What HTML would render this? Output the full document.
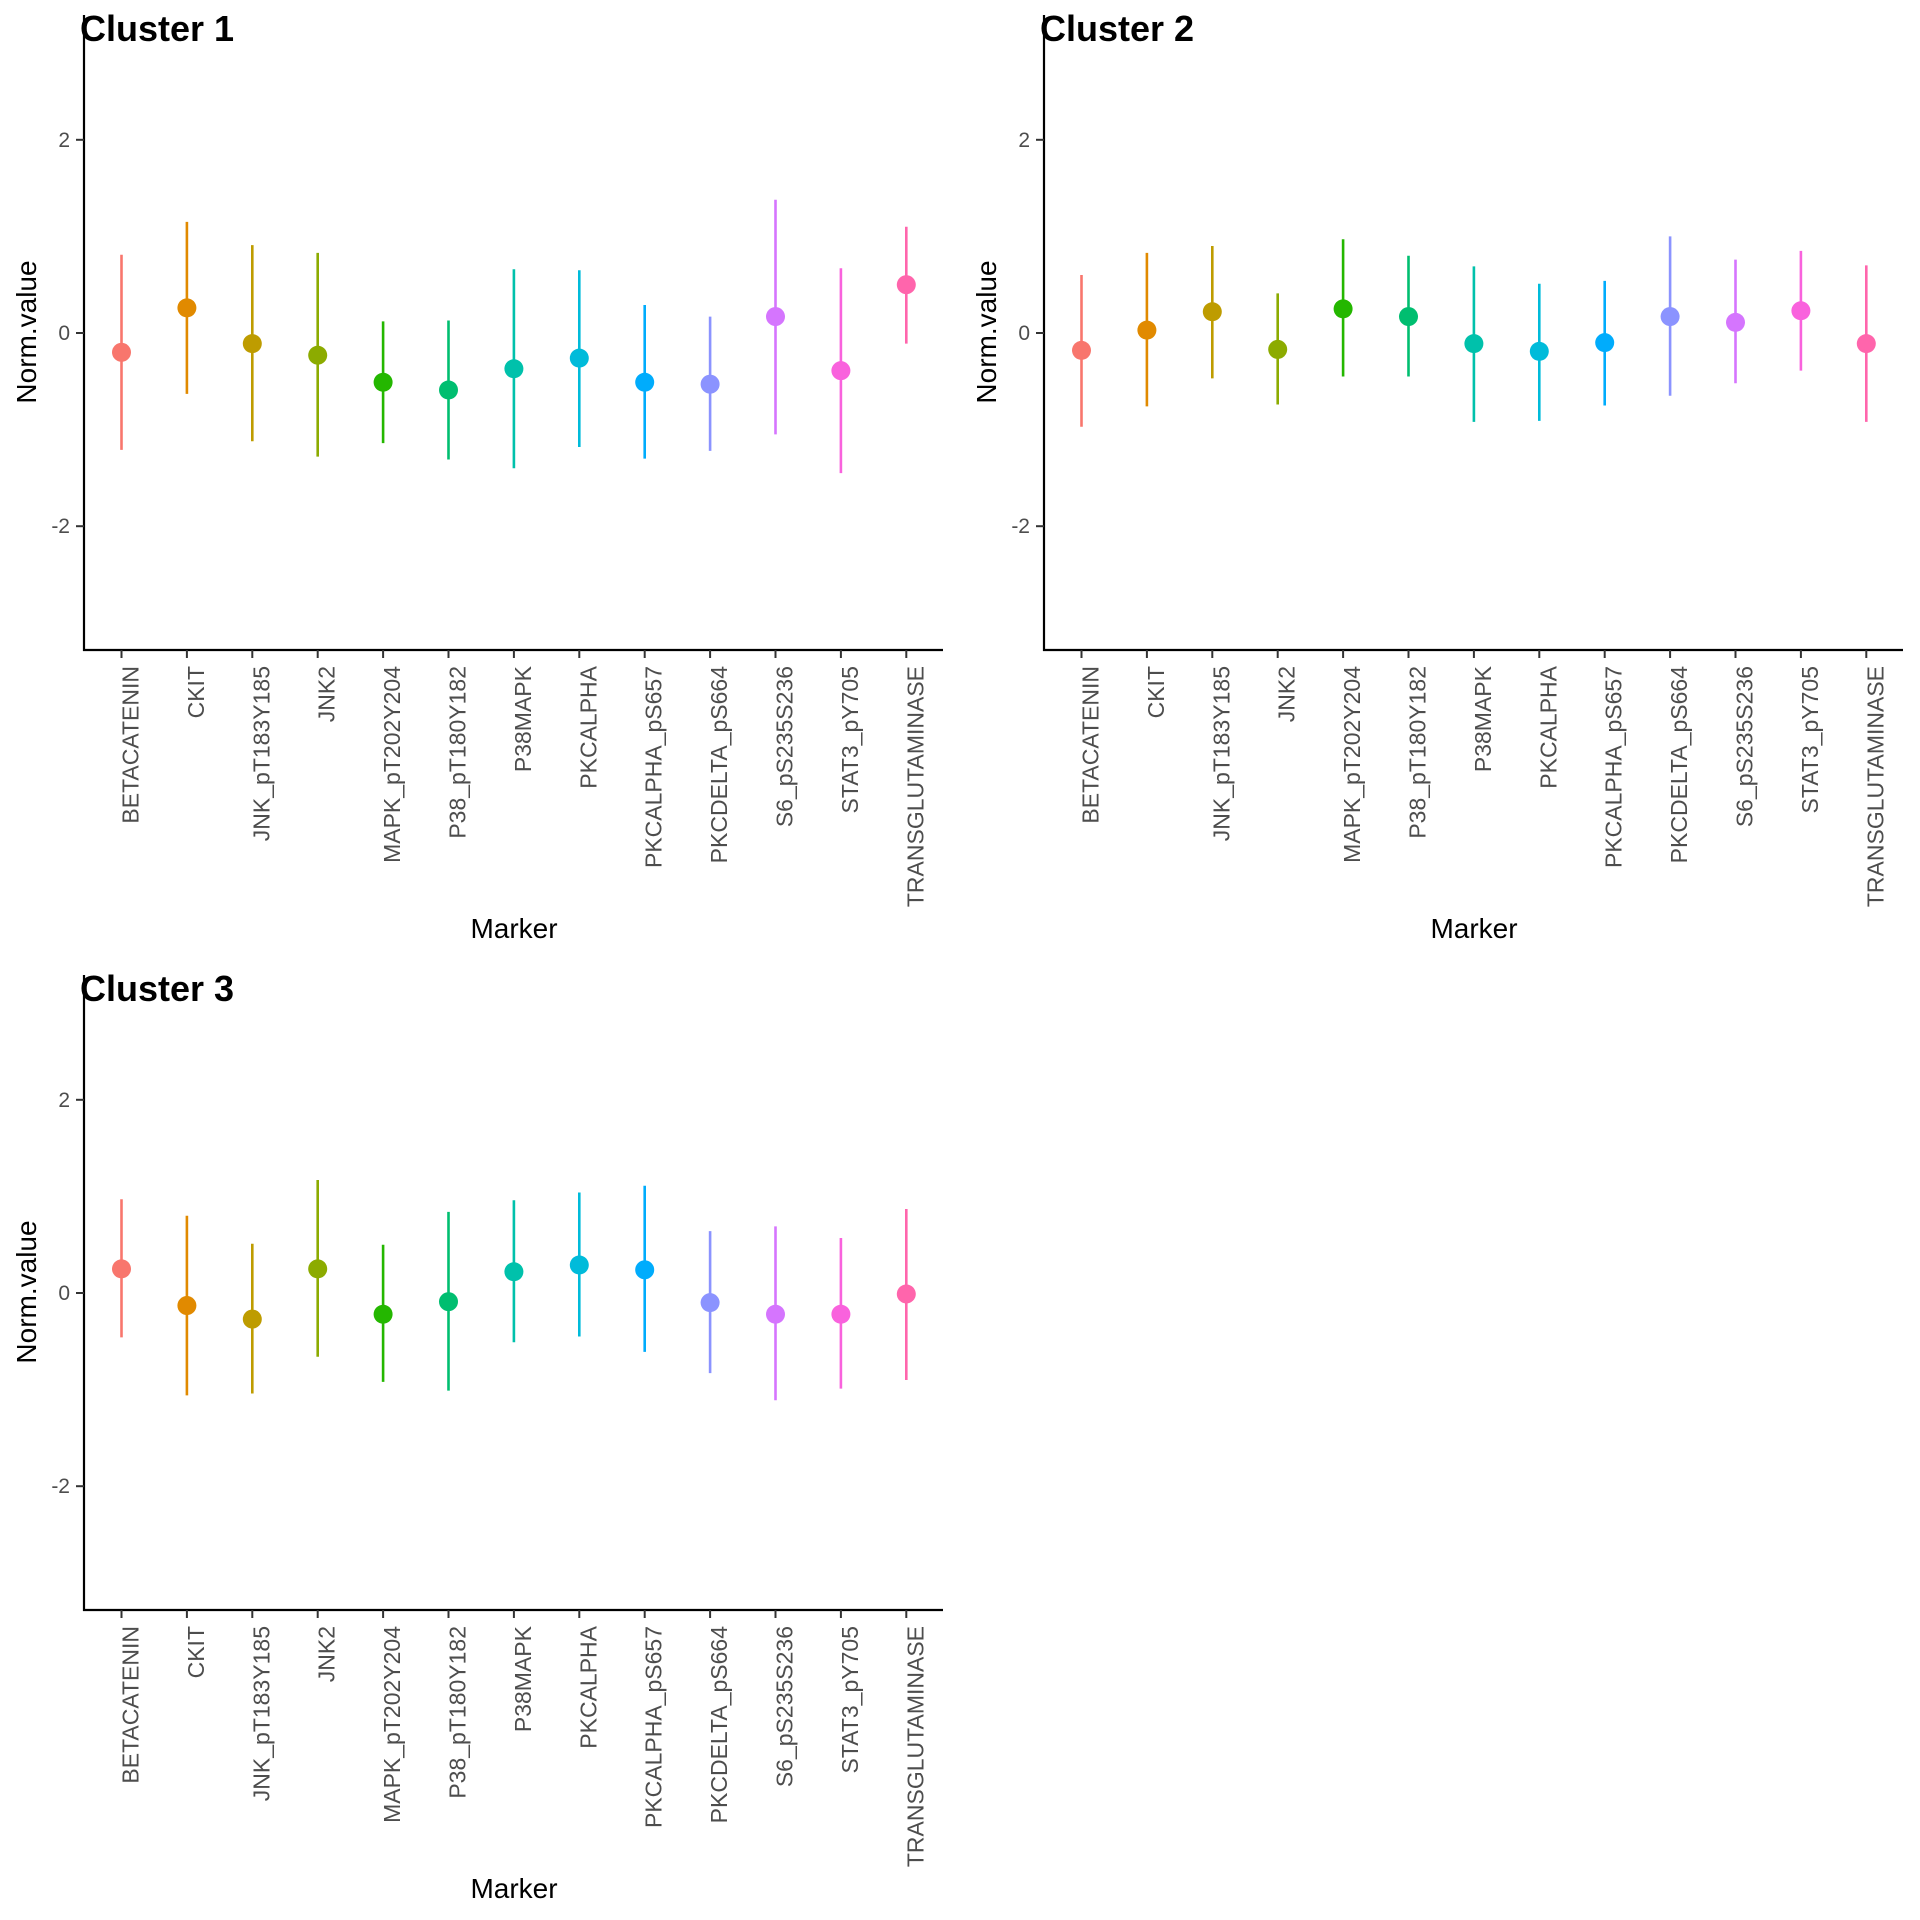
<!DOCTYPE html>
<html><head><meta charset="utf-8"><style>
html,body{margin:0;padding:0;background:#fff;}
svg{display:block;font-family:"Liberation Sans",Arial,sans-serif;}
</style></head><body>
<svg id="chart" width="1920" height="1920" viewBox="0 0 1920 1920" xmlns="http://www.w3.org/2000/svg"></svg>
<script>
const markers = ["BETACATENIN","CKIT","JNK_pT183Y185","JNK2","MAPK_pT202Y204","P38_pT180Y182","P38MAPK","PKCALPHA","PKCALPHA_pS657","PKCDELTA_pS664","S6_pS235S236","STAT3_pY705","TRANSGLUTAMINASE"];
const colors = ["#F8766D","#E18A00","#BE9C00","#8CAB00","#24B700","#00BE70","#00C1AB","#00BBDA","#00ACFC","#8B93FF","#D575FE","#F962DD","#FF65AC"];
const yTicks = [-2,0,2];
const yTickLabels = ["-2","0","2"];
const clusterTitles = ["Cluster 1","Cluster 2","Cluster 3"];
const c1Mean = [-0.20,0.26,-0.11,-0.23,-0.51,-0.59,-0.37,-0.26,-0.51,-0.53,0.17,-0.39,0.50];
const c1Upper = [0.81,1.15,0.91,0.83,0.12,0.13,0.66,0.65,0.29,0.17,1.38,0.67,1.10];
const c1Lower = [-1.21,-0.63,-1.12,-1.28,-1.14,-1.31,-1.40,-1.18,-1.30,-1.22,-1.05,-1.45,-0.11];
const c2Mean = [-0.18,0.03,0.22,-0.17,0.25,0.17,-0.11,-0.19,-0.10,0.17,0.11,0.23,-0.11];
const c2Upper = [0.60,0.83,0.90,0.41,0.97,0.80,0.69,0.51,0.54,1.00,0.76,0.85,0.70];
const c2Lower = [-0.97,-0.76,-0.47,-0.74,-0.45,-0.45,-0.92,-0.91,-0.75,-0.65,-0.52,-0.39,-0.92];
const c3Mean = [0.25,-0.13,-0.27,0.25,-0.22,-0.09,0.22,0.29,0.24,-0.10,-0.22,-0.22,-0.01];
const c3Upper = [0.97,0.80,0.51,1.17,0.50,0.84,0.96,1.04,1.11,0.64,0.69,0.57,0.87];
const c3Lower = [-0.46,-1.06,-1.04,-0.66,-0.92,-1.01,-0.51,-0.45,-0.61,-0.83,-1.11,-0.99,-0.90];
const means=[c1Mean,c2Mean,c3Mean], uppers=[c1Upper,c2Upper,c3Upper], lowers=[c1Lower,c2Lower,c3Lower];

const NS="http://www.w3.org/2000/svg";
const svg=document.getElementById('chart');
function mk(tag,attrs,parent){const e=document.createElementNS(NS,tag);for(const k in attrs)e.setAttribute(k,attrs[k]);parent.appendChild(e);return e;}
const offsets=[[0,0],[960,0],[0,960]];
const axL=84, axR=943, axT=15, axB=650;
const y0=333, unit=96.6;
function yScale(v){return y0 - v*unit;}
const x0=121.5, step=65.4;
function xScale(i){return x0 + i*step;}

for(let p=0;p<3;p++){
  const g=mk('g',{transform:`translate(${offsets[p][0]},${offsets[p][1]})`},svg);
  
  
  const t=mk('text',{x:80,y:41,'font-size':36,'font-weight':'bold',fill:'#000'},g);
  t.textContent=clusterTitles[p];
  
  
  const ya=mk('line',{x1:axL,y1:axT,x2:axL,y2:axB+1,stroke:'#000','stroke-width':2.2},g);
  
  
  const xa=mk('line',{x1:axL-1,y1:axB,x2:axR,y2:axB,stroke:'#000','stroke-width':2.2},g);
  
  
  yTicks.forEach((v,i)=>{
    const tk=mk('line',{x1:axL-8,y1:yScale(v),x2:axL,y2:yScale(v),stroke:'#333','stroke-width':2},g);
    
    
    const tl=mk('text',{x:axL-14,y:yScale(v)+7,'font-size':21,fill:'#4D4D4D','text-anchor':'end'},g);
    tl.textContent=yTickLabels[i];
    
    
  });
  markers.forEach((m,i)=>{
    const x=xScale(i);
    const tk=mk('line',{x1:x,y1:axB,x2:x,y2:axB+8,stroke:'#333','stroke-width':2},g);
    
    
    const tl=mk('text',{x:x+17,y:666,'font-size':23,fill:'#4D4D4D','text-anchor':'end',transform:`rotate(-90 ${x+17} 666)`},g);
    tl.textContent=m;
    
    
    const er=mk('line',{x1:x,y1:yScale(uppers[p][i]),x2:x,y2:yScale(lowers[p][i]),stroke:colors[i],'stroke-width':2.6},g);
    
    
    const pt=mk('circle',{cx:x,cy:yScale(means[p][i]),r:9.5,fill:colors[i]},g);
    
    
  });
  const xt=mk('text',{x:514,y:938,'font-size':28,fill:'#000','text-anchor':'middle'},g);
  xt.textContent='Marker';
  
  
  const yt=mk('text',{x:36,y:332,'font-size':28,fill:'#000','text-anchor':'middle',transform:'rotate(-90 36 332)'},g);
  yt.textContent='Norm.value';
  
  
}
</script>
</body></html>
